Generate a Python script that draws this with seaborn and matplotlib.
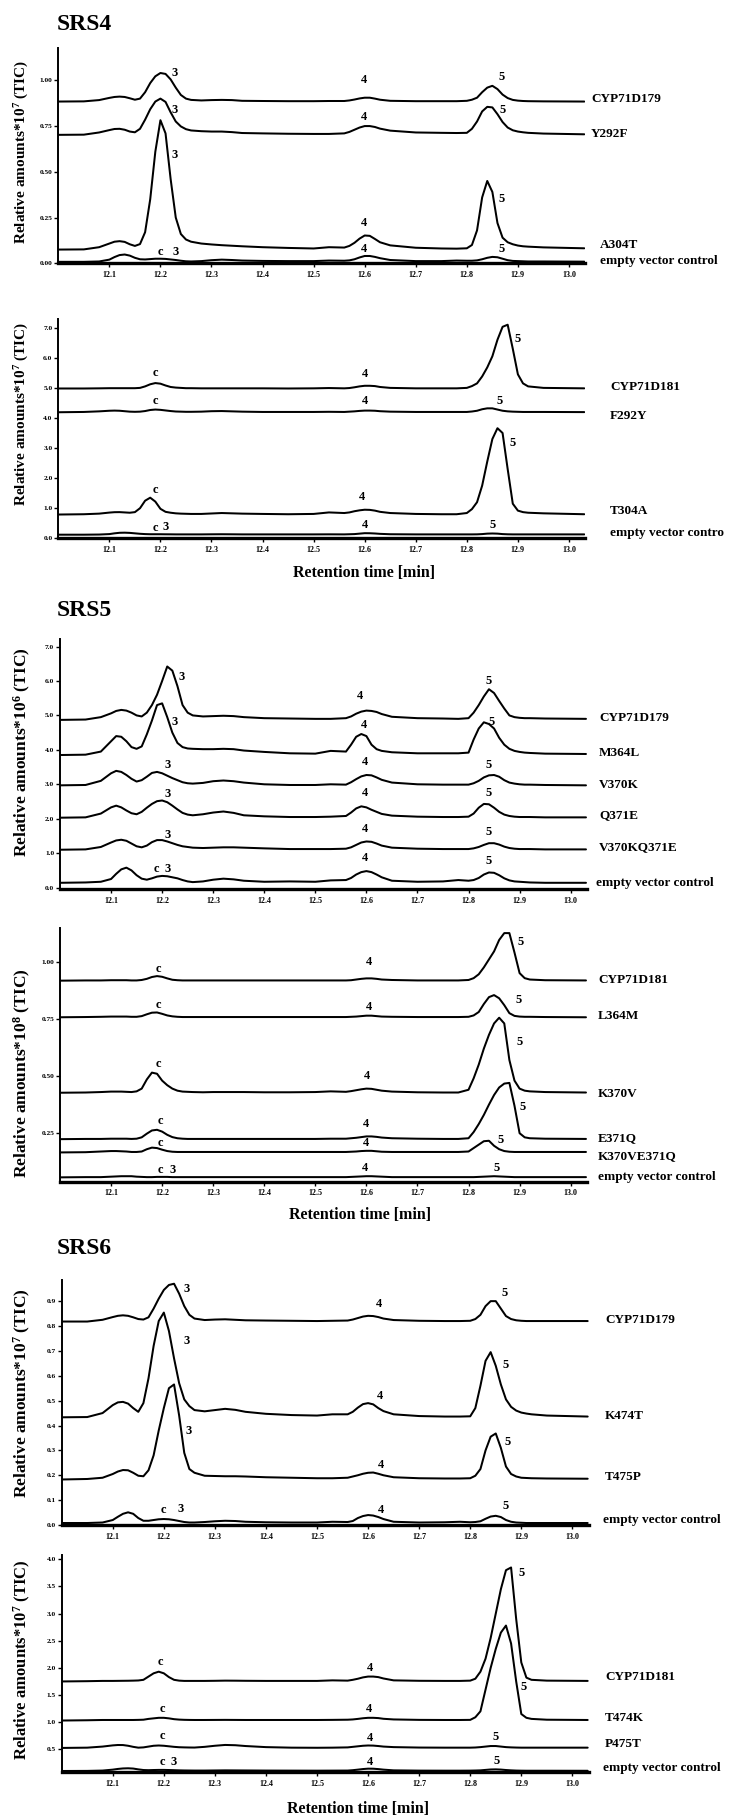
import matplotlib
matplotlib.use("Agg")
import matplotlib.pyplot as plt
import matplotlib.transforms as mtransforms
import pandas as pd
import seaborn as sns

# ---------------------------------------------------------------------------
# Retention-time grid shared by every trace (min), ten values per row
# ---------------------------------------------------------------------------
RT = [12.00, 12.05, 12.08, 12.10, 12.11, 12.12, 12.13, 12.14, 12.15, 12.16,
      12.17, 12.18, 12.19, 12.20, 12.21, 12.22, 12.23, 12.24, 12.25, 12.26,
      12.28, 12.30, 12.32, 12.34, 12.36, 12.40, 12.45, 12.50, 12.53, 12.56,
      12.57, 12.58, 12.59, 12.60, 12.61, 12.62, 12.63, 12.65, 12.70, 12.75,
      12.78, 12.80, 12.81, 12.82, 12.83, 12.84, 12.85, 12.86, 12.87, 12.88,
      12.89, 12.90, 12.91, 12.92, 12.95, 13.03]

# ---------------------------------------------------------------------------
# SRS4, CYP71D179 series (x10^7 TIC)
# ---------------------------------------------------------------------------
srs4a_cyp71d179 = [0.884, 0.885, 0.892, 0.904, 0.909, 0.911, 0.909, 0.902, 0.894, 0.900,
                   0.935, 0.985, 1.022, 1.040, 1.035, 1.005, 0.960, 0.920, 0.900, 0.893,
                   0.890, 0.892, 0.893, 0.892, 0.888, 0.887, 0.886, 0.886, 0.887, 0.887,
                   0.890, 0.895, 0.901, 0.905, 0.905, 0.900, 0.894, 0.888, 0.886, 0.886,
                   0.886, 0.888, 0.894, 0.905, 0.935, 0.960, 0.970, 0.952, 0.922, 0.903,
                   0.893, 0.889, 0.887, 0.886, 0.885, 0.884]
srs4a_y292f = [0.702, 0.703, 0.715, 0.728, 0.734, 0.735, 0.730, 0.720, 0.716, 0.735,
               0.785, 0.842, 0.884, 0.900, 0.882, 0.825, 0.775, 0.748, 0.733, 0.726,
               0.722, 0.720, 0.720, 0.717, 0.712, 0.710, 0.708, 0.707, 0.707, 0.710,
               0.718, 0.730, 0.742, 0.750, 0.750, 0.745, 0.736, 0.725, 0.715, 0.713,
               0.712, 0.713, 0.735, 0.775, 0.830, 0.855, 0.852, 0.815, 0.772, 0.742,
               0.727, 0.720, 0.716, 0.713, 0.709, 0.705]
srs4a_a304t = [0.075, 0.076, 0.088, 0.108, 0.118, 0.121, 0.117, 0.104, 0.095, 0.105,
               0.170, 0.350, 0.610, 0.782, 0.710, 0.460, 0.250, 0.160, 0.130, 0.118,
               0.108, 0.103, 0.099, 0.096, 0.093, 0.088, 0.084, 0.081, 0.088, 0.086,
               0.095, 0.112, 0.135, 0.152, 0.150, 0.133, 0.115, 0.098, 0.085, 0.081,
               0.080, 0.082, 0.100, 0.180, 0.360, 0.450, 0.390, 0.220, 0.140, 0.115,
               0.104, 0.097, 0.093, 0.091, 0.087, 0.082]
srs4a_empty = [0.008, 0.008, 0.010, 0.020, 0.034, 0.045, 0.048, 0.042, 0.030, 0.022,
               0.021, 0.023, 0.025, 0.025, 0.024, 0.021, 0.018, 0.014, 0.011, 0.010,
               0.012, 0.017, 0.020, 0.018, 0.015, 0.013, 0.012, 0.012, 0.015, 0.014,
               0.016, 0.022, 0.032, 0.040, 0.040, 0.035, 0.028, 0.018, 0.012, 0.012,
               0.015, 0.014, 0.014, 0.016, 0.022, 0.030, 0.035, 0.033, 0.025, 0.017,
               0.013, 0.012, 0.011, 0.010, 0.010, 0.009]

# SRS4, CYP71D181 series (x10^7 TIC)
srs4b_cyp71d181 = [4.98, 4.98, 4.985, 4.99, 4.99, 4.99, 4.99, 4.99, 4.99, 5.00,
                   5.05, 5.12, 5.16, 5.14, 5.08, 5.03, 5.01, 5.00, 4.99, 4.99,
                   4.985, 4.985, 4.985, 4.985, 4.985, 4.985, 4.98, 4.985, 4.995, 4.985,
                   4.995, 5.02, 5.05, 5.07, 5.07, 5.06, 5.03, 5.00, 4.985, 4.985,
                   4.985, 5.00, 5.06, 5.15, 5.38, 5.68, 6.05, 6.60, 7.03, 7.10,
                   6.30, 5.45, 5.15, 5.05, 5.00, 4.985]
srs4b_f292y = [4.19, 4.20, 4.22, 4.24, 4.245, 4.24, 4.225, 4.21, 4.205, 4.21,
               4.23, 4.265, 4.28, 4.27, 4.25, 4.23, 4.215, 4.21, 4.205, 4.205,
               4.21, 4.225, 4.23, 4.22, 4.21, 4.20, 4.20, 4.20, 4.205, 4.20,
               4.21, 4.22, 4.235, 4.245, 4.245, 4.24, 4.225, 4.21, 4.20, 4.20,
               4.20, 4.20, 4.215, 4.24, 4.29, 4.32, 4.32, 4.28, 4.24, 4.22,
               4.21, 4.205, 4.20, 4.20, 4.20, 4.195]
srs4b_t304a = [0.79, 0.80, 0.82, 0.855, 0.868, 0.87, 0.86, 0.85, 0.87, 1.00,
               1.25, 1.35, 1.22, 0.98, 0.88, 0.85, 0.83, 0.82, 0.815, 0.81,
               0.81, 0.825, 0.84, 0.83, 0.82, 0.81, 0.80, 0.81, 0.86, 0.84,
               0.86, 0.90, 0.93, 0.95, 0.945, 0.92, 0.88, 0.84, 0.81, 0.80,
               0.80, 0.84, 0.97, 1.20, 1.75, 2.55, 3.30, 3.66, 3.50, 2.30,
               1.15, 0.92, 0.87, 0.85, 0.83, 0.80]
srs4b_empty = [0.12, 0.12, 0.125, 0.14, 0.165, 0.183, 0.187, 0.18, 0.165, 0.15,
               0.14, 0.135, 0.135, 0.135, 0.133, 0.132, 0.13, 0.13, 0.13, 0.13,
               0.13, 0.133, 0.135, 0.133, 0.13, 0.13, 0.13, 0.13, 0.132, 0.13,
               0.135, 0.14, 0.155, 0.17, 0.168, 0.16, 0.148, 0.135, 0.13, 0.13,
               0.13, 0.13, 0.13, 0.132, 0.14, 0.155, 0.16, 0.155, 0.14, 0.133,
               0.13, 0.13, 0.13, 0.13, 0.13, 0.13]

# ---------------------------------------------------------------------------
# SRS5, CYP71D179 series (x10^6 TIC)
# ---------------------------------------------------------------------------
srs5a_cyp71d179 = [4.87, 4.88, 4.95, 5.06, 5.13, 5.16, 5.14, 5.08, 5.00, 4.97,
                   5.08, 5.30, 5.60, 6.00, 6.42, 6.30, 5.85, 5.30, 5.08, 5.00,
                   4.97, 4.98, 4.99, 4.98, 4.95, 4.92, 4.91, 4.90, 4.90, 4.92,
                   4.97, 5.05, 5.11, 5.14, 5.13, 5.10, 5.04, 4.96, 4.92, 4.91,
                   4.90, 4.92, 5.08, 5.30, 5.55, 5.76, 5.65, 5.42, 5.20, 5.00,
                   4.95, 4.93, 4.92, 4.92, 4.91, 4.90]
srs5a_m364l = [3.85, 3.86, 3.95, 4.25, 4.40, 4.38, 4.25, 4.08, 4.03, 4.10,
               4.45, 4.85, 5.30, 5.35, 4.95, 4.50, 4.20, 4.08, 4.04, 4.03,
               4.02, 4.02, 4.03, 4.02, 3.98, 3.94, 3.90, 3.89, 3.97, 3.95,
               4.15, 4.38, 4.46, 4.40, 4.15, 4.02, 3.97, 3.93, 3.90, 3.90,
               3.90, 3.92, 4.30, 4.62, 4.80, 4.75, 4.62, 4.35, 4.15, 4.03,
               3.97, 3.94, 3.92, 3.91, 3.89, 3.88]
srs5a_v370k = [2.97, 2.98, 3.10, 3.32, 3.39, 3.36, 3.27, 3.16, 3.08, 3.12,
               3.22, 3.33, 3.36, 3.32, 3.25, 3.18, 3.12, 3.06, 3.03, 3.02,
               3.04, 3.09, 3.11, 3.09, 3.05, 3.00, 2.98, 2.98, 3.00, 2.99,
               3.06, 3.15, 3.23, 3.27, 3.26, 3.20, 3.13, 3.05, 3.00, 2.99,
               2.99, 2.99, 3.03, 3.10, 3.20, 3.26, 3.27, 3.22, 3.12, 3.05,
               3.02, 3.00, 2.99, 2.99, 2.98, 2.97]
srs5a_q371e = [2.03, 2.04, 2.15, 2.33, 2.38, 2.33, 2.24, 2.16, 2.13, 2.20,
               2.32, 2.43, 2.51, 2.53, 2.48, 2.38, 2.27, 2.17, 2.12, 2.10,
               2.13, 2.18, 2.21, 2.17, 2.10, 2.07, 2.05, 2.05, 2.06, 2.08,
               2.18, 2.30, 2.36, 2.33, 2.26, 2.20, 2.14, 2.09, 2.06, 2.05,
               2.05, 2.06, 2.15, 2.32, 2.43, 2.42, 2.32, 2.20, 2.12, 2.08,
               2.06, 2.05, 2.05, 2.05, 2.04, 2.04]
srs5a_v370kq371e = [1.10, 1.11, 1.18, 1.31, 1.37, 1.39, 1.36, 1.28, 1.20, 1.17,
                    1.22, 1.32, 1.38, 1.38, 1.34, 1.29, 1.24, 1.20, 1.18, 1.16,
                    1.15, 1.16, 1.17, 1.17, 1.16, 1.14, 1.12, 1.12, 1.12, 1.13,
                    1.17, 1.24, 1.31, 1.34, 1.33, 1.28, 1.22, 1.16, 1.13, 1.12,
                    1.12, 1.12, 1.14, 1.18, 1.24, 1.29, 1.29, 1.25, 1.19, 1.15,
                    1.13, 1.12, 1.12, 1.12, 1.11, 1.11]
srs5a_empty = [0.14, 0.15, 0.17, 0.25, 0.40, 0.53, 0.58, 0.50, 0.36, 0.26,
               0.23, 0.27, 0.32, 0.34, 0.33, 0.30, 0.27, 0.22, 0.18, 0.16,
               0.18, 0.23, 0.26, 0.24, 0.20, 0.17, 0.18, 0.17, 0.21, 0.22,
               0.28, 0.38, 0.45, 0.48, 0.45, 0.38, 0.30, 0.20, 0.17, 0.18,
               0.22, 0.20, 0.22, 0.28, 0.38, 0.44, 0.43, 0.36, 0.27, 0.21,
               0.18, 0.17, 0.16, 0.15, 0.14, 0.14]

# SRS5, CYP71D181 series (x10^8 TIC)
srs5b_cyp71d181 = [0.917, 0.918, 0.918, 0.919, 0.919, 0.919, 0.919, 0.918, 0.918, 0.920,
                   0.925, 0.933, 0.937, 0.934, 0.927, 0.921, 0.919, 0.918, 0.918, 0.918,
                   0.918, 0.918, 0.918, 0.918, 0.918, 0.918, 0.918, 0.918, 0.918, 0.918,
                   0.919, 0.922, 0.925, 0.927, 0.927, 0.925, 0.922, 0.920, 0.918, 0.918,
                   0.918, 0.920, 0.928, 0.945, 0.975, 1.010, 1.045, 1.095, 1.125, 1.125,
                   1.040, 0.950, 0.928, 0.922, 0.919, 0.918]
srs5b_l364m = [0.757, 0.758, 0.759, 0.760, 0.760, 0.760, 0.760, 0.759, 0.759, 0.762,
               0.770, 0.777, 0.778, 0.772, 0.765, 0.761, 0.759, 0.758, 0.758, 0.758,
               0.758, 0.758, 0.758, 0.758, 0.758, 0.758, 0.758, 0.758, 0.758, 0.758,
               0.759, 0.760, 0.762, 0.764, 0.764, 0.762, 0.760, 0.759, 0.758, 0.758,
               0.758, 0.759, 0.765, 0.780, 0.815, 0.845, 0.854, 0.840, 0.810, 0.775,
               0.763, 0.760, 0.759, 0.759, 0.758, 0.757]
srs5b_k370v = [0.427, 0.428, 0.430, 0.432, 0.432, 0.432, 0.431, 0.430, 0.433, 0.445,
               0.485, 0.515, 0.510, 0.480, 0.460, 0.445, 0.436, 0.432, 0.431, 0.430,
               0.429, 0.430, 0.430, 0.430, 0.430, 0.429, 0.429, 0.430, 0.433, 0.431,
               0.434, 0.438, 0.442, 0.445, 0.444, 0.440, 0.436, 0.432, 0.429, 0.428,
               0.428, 0.440, 0.490, 0.550, 0.620, 0.680, 0.730, 0.755, 0.730, 0.570,
               0.480, 0.445, 0.436, 0.433, 0.430, 0.428]
srs5b_e371q = [0.224, 0.225, 0.225, 0.226, 0.226, 0.226, 0.226, 0.225, 0.226, 0.232,
               0.248, 0.262, 0.265, 0.257, 0.243, 0.233, 0.228, 0.226, 0.225, 0.225,
               0.225, 0.225, 0.225, 0.225, 0.225, 0.225, 0.225, 0.225, 0.226, 0.226,
               0.228, 0.230, 0.233, 0.236, 0.236, 0.234, 0.231, 0.228, 0.226, 0.225,
               0.225, 0.228, 0.255, 0.290, 0.330, 0.375, 0.417, 0.450, 0.467, 0.470,
               0.370, 0.250, 0.232, 0.228, 0.226, 0.225]
srs5b_k370ve371q = [0.166, 0.167, 0.170, 0.172, 0.172, 0.171, 0.170, 0.168, 0.168, 0.170,
                    0.180, 0.187, 0.185, 0.178, 0.172, 0.169, 0.168, 0.168, 0.168, 0.168,
                    0.168, 0.168, 0.168, 0.168, 0.168, 0.168, 0.168, 0.168, 0.168, 0.168,
                    0.169, 0.170, 0.172, 0.173, 0.173, 0.171, 0.169, 0.168, 0.168, 0.168,
                    0.168, 0.170, 0.185, 0.200, 0.215, 0.217, 0.195, 0.180, 0.172, 0.169,
                    0.168, 0.168, 0.168, 0.168, 0.168, 0.168]
srs5b_empty = [0.057, 0.058, 0.058, 0.060, 0.061, 0.062, 0.062, 0.062, 0.060, 0.059,
               0.058, 0.058, 0.059, 0.059, 0.059, 0.058, 0.058, 0.058, 0.058, 0.058,
               0.058, 0.058, 0.058, 0.058, 0.058, 0.058, 0.058, 0.058, 0.058, 0.058,
               0.059, 0.060, 0.061, 0.062, 0.062, 0.061, 0.060, 0.058, 0.058, 0.058,
               0.058, 0.058, 0.058, 0.059, 0.060, 0.061, 0.062, 0.061, 0.060, 0.059,
               0.058, 0.058, 0.058, 0.058, 0.058, 0.058]

# ---------------------------------------------------------------------------
# SRS6, CYP71D179 series (x10^7 TIC)
# ---------------------------------------------------------------------------
srs6a_cyp71d179 = [0.818, 0.818, 0.825, 0.836, 0.841, 0.843, 0.841, 0.835, 0.828, 0.826,
                   0.835, 0.870, 0.910, 0.945, 0.965, 0.970, 0.930, 0.880, 0.845, 0.830,
                   0.824, 0.826, 0.827, 0.825, 0.823, 0.822, 0.821, 0.820, 0.821, 0.822,
                   0.826, 0.832, 0.838, 0.841, 0.840, 0.836, 0.830, 0.824, 0.821, 0.820,
                   0.820, 0.821, 0.828, 0.845, 0.880, 0.900, 0.900, 0.870, 0.840, 0.828,
                   0.823, 0.821, 0.820, 0.820, 0.820, 0.820]
srs6a_k474t = [0.433, 0.434, 0.450, 0.482, 0.493, 0.495, 0.488, 0.470, 0.455, 0.490,
               0.590, 0.720, 0.820, 0.854, 0.780, 0.670, 0.570, 0.505, 0.478, 0.462,
               0.457, 0.462, 0.467, 0.463, 0.455, 0.447, 0.442, 0.440, 0.445, 0.445,
               0.455, 0.472, 0.486, 0.490, 0.485, 0.470, 0.458, 0.445, 0.438, 0.436,
               0.436, 0.437, 0.470, 0.560, 0.660, 0.695, 0.640, 0.565, 0.505, 0.475,
               0.460, 0.452, 0.448, 0.445, 0.440, 0.436]
srs6a_t475p = [0.183, 0.185, 0.190, 0.205, 0.215, 0.221, 0.220, 0.210, 0.198, 0.196,
               0.220, 0.280, 0.380, 0.470, 0.550, 0.565, 0.440, 0.290, 0.225, 0.210,
               0.198, 0.197, 0.196, 0.196, 0.195, 0.192, 0.190, 0.188, 0.188, 0.190,
               0.195, 0.200, 0.206, 0.210, 0.211, 0.206, 0.200, 0.192, 0.188, 0.187,
               0.187, 0.188, 0.198, 0.225, 0.300, 0.355, 0.368, 0.310, 0.235, 0.205,
               0.195, 0.190, 0.189, 0.188, 0.187, 0.186]
srs6a_empty = [0.008, 0.008, 0.010, 0.020, 0.033, 0.045, 0.051, 0.045, 0.028, 0.017,
               0.017, 0.020, 0.023, 0.024, 0.023, 0.020, 0.016, 0.012, 0.010, 0.010,
               0.012, 0.015, 0.017, 0.016, 0.013, 0.011, 0.010, 0.010, 0.013, 0.012,
               0.016, 0.028, 0.036, 0.040, 0.038, 0.032, 0.024, 0.013, 0.010, 0.011,
               0.013, 0.011, 0.012, 0.015, 0.025, 0.034, 0.037, 0.032, 0.020, 0.013,
               0.010, 0.009, 0.008, 0.008, 0.008, 0.008]

# SRS6, CYP71D181 series (x10^7 TIC)
srs6b_cyp71d181 = [1.750, 1.755, 1.760, 1.760, 1.761, 1.762, 1.763, 1.765, 1.768, 1.780,
                   1.840, 1.900, 1.930, 1.900, 1.830, 1.780, 1.765, 1.760, 1.760, 1.760,
                   1.760, 1.762, 1.765, 1.764, 1.762, 1.760, 1.760, 1.760, 1.770, 1.765,
                   1.780, 1.800, 1.825, 1.840, 1.840, 1.830, 1.805, 1.770, 1.762, 1.760,
                   1.760, 1.765, 1.800, 1.930, 2.170, 2.550, 3.000, 3.450, 3.800, 3.850,
                   2.900, 2.100, 1.820, 1.780, 1.765, 1.760]
srs6b_t474k = [1.030, 1.035, 1.040, 1.040, 1.040, 1.040, 1.040, 1.040, 1.042, 1.045,
               1.060, 1.070, 1.080, 1.080, 1.070, 1.055, 1.047, 1.043, 1.041, 1.040,
               1.040, 1.041, 1.042, 1.041, 1.040, 1.040, 1.040, 1.040, 1.042, 1.045,
               1.050, 1.060, 1.072, 1.080, 1.080, 1.075, 1.062, 1.050, 1.042, 1.040,
               1.040, 1.042, 1.090, 1.200, 1.600, 2.000, 2.350, 2.650, 2.780, 2.450,
               1.750, 1.150, 1.080, 1.060, 1.045, 1.040]
srs6b_p475t = [0.525, 0.530, 0.550, 0.572, 0.579, 0.578, 0.565, 0.545, 0.530, 0.535,
               0.550, 0.565, 0.570, 0.565, 0.555, 0.545, 0.538, 0.535, 0.533, 0.532,
               0.545, 0.565, 0.580, 0.575, 0.560, 0.540, 0.530, 0.528, 0.530, 0.535,
               0.545, 0.555, 0.565, 0.570, 0.568, 0.560, 0.550, 0.540, 0.532, 0.530,
               0.530, 0.530, 0.533, 0.540, 0.550, 0.560, 0.560, 0.550, 0.540, 0.535,
               0.532, 0.530, 0.530, 0.530, 0.530, 0.530]
srs6b_empty = [0.100, 0.102, 0.108, 0.125, 0.138, 0.147, 0.150, 0.145, 0.130, 0.118,
               0.115, 0.118, 0.120, 0.120, 0.118, 0.115, 0.112, 0.110, 0.109, 0.108,
               0.108, 0.110, 0.112, 0.111, 0.110, 0.108, 0.107, 0.106, 0.107, 0.108,
               0.115, 0.125, 0.136, 0.143, 0.142, 0.135, 0.125, 0.112, 0.107, 0.106,
               0.106, 0.107, 0.109, 0.112, 0.120, 0.128, 0.130, 0.126, 0.118, 0.112,
               0.108, 0.106, 0.105, 0.105, 0.105, 0.104]

# ---------------------------------------------------------------------------
# Sample names and where they sit on the y scale of each panel
# ---------------------------------------------------------------------------
srs4a_names = ["CYP71D179", "Y292F", "A304T", "empty vector control"]
srs4a_name_y = [0.898, 0.705, 0.100, 0.013]
srs4b_names = ["CYP71D181", "F292Y", "T304A", "empty vector contro"]
srs4b_name_y = [5.04, 4.06, 0.92, 0.17]
srs5a_names = ["CYP71D179", "M364L", "V370K", "Q371E", "V370KQ371E",
               "empty vector control"]
srs5a_name_y = [4.92, 3.92, 2.99, 2.11, 1.19, 0.13]
srs5b_names = ["CYP71D181", "L364M", "K370V", "E371Q", "K370VE371Q",
               "empty vector control"]
srs5b_name_y = [0.920, 0.763, 0.422, 0.228, 0.148, 0.058]
srs6a_names = ["CYP71D179", "K474T", "T475P", "empty vector control"]
srs6a_name_y = [0.825, 0.440, 0.193, 0.019]
srs6b_names = ["CYP71D181", "T474K", "P475T", "empty vector control"]
srs6b_name_y = [1.84, 1.08, 0.59, 0.16]

# Peak annotations: compound label, retention time, height
srs4a_peak_txt = ["3", "4", "5", "3", "4", "5", "3", "4", "5", "c", "3", "4", "5"]
srs4a_peak_rt = [12.228, 12.598, 12.868, 12.228, 12.598, 12.870, 12.228,
                 12.598, 12.868, 12.199, 12.230, 12.598, 12.868]
srs4a_peak_h = [1.040, 1.004, 1.018, 0.840, 0.797, 0.840, 0.593,
                0.219, 0.350, 0.063, 0.060, 0.077, 0.077]

srs4b_peak_txt = ["c", "4", "5", "c", "4", "5", "c", "4", "5", "c", "3", "4", "5"]
srs4b_peak_rt = [12.190, 12.600, 12.900, 12.190, 12.600, 12.865, 12.190,
                 12.595, 12.890, 12.190, 12.210, 12.600, 12.850]
srs4b_peak_h = [5.50, 5.46, 6.62, 4.56, 4.56, 4.56, 1.61,
                1.36, 3.16, 0.35, 0.39, 0.44, 0.44]

srs5a_peak_txt = ["3", "4", "5", "3", "4", "5", "3", "4", "5",
                  "3", "4", "5", "3", "4", "5", "c", "3", "4", "5"]
srs5a_peak_rt = [12.239, 12.588, 12.840, 12.225, 12.595, 12.845,
                 12.210, 12.597, 12.840, 12.210, 12.597, 12.840,
                 12.210, 12.597, 12.840, 12.189, 12.210, 12.597, 12.840]
srs5a_peak_h = [6.11, 5.55, 5.99, 4.81, 4.73, 4.81, 3.57, 3.64, 3.57,
                2.72, 2.74, 2.76, 1.53, 1.71, 1.61, 0.54, 0.54, 0.85, 0.76]

srs5b_peak_txt = ["c", "4", "5", "c", "4", "5", "c", "4", "5",
                  "c", "4", "5", "c", "4", "5", "c", "3", "4", "5"]
srs5b_peak_rt = [12.193, 12.606, 12.903, 12.193, 12.606, 12.899,
                 12.193, 12.602, 12.900, 12.196, 12.600, 12.906,
                 12.197, 12.600, 12.862, 12.197, 12.220, 12.598, 12.855]
srs5b_peak_h = [0.968, 0.997, 1.084, 0.810, 0.800, 0.833, 0.551, 0.498,
                0.648, 0.304, 0.289, 0.364, 0.206, 0.206, 0.221, 0.090,
                0.090, 0.100, 0.100]

srs6a_peak_txt = ["3", "4", "5", "3", "4", "5", "3", "4", "5", "c", "3", "4", "5"]
srs6a_peak_rt = [12.244, 12.621, 12.868, 12.244, 12.624, 12.870, 12.248,
                 12.626, 12.874, 12.200, 12.232, 12.626, 12.870]
srs6a_peak_h = [0.948, 0.889, 0.934, 0.738, 0.519, 0.644, 0.376,
                0.240, 0.333, 0.062, 0.064, 0.062, 0.078]

srs6b_peak_txt = ["c", "4", "5", "c", "4", "5", "c", "4", "5", "c", "3", "4", "5"]
srs6b_peak_rt = [12.194, 12.604, 12.900, 12.198, 12.601, 12.904, 12.198,
                 12.604, 12.850, 12.198, 12.220, 12.604, 12.852]
srs6b_peak_h = [2.11, 2.00, 3.74, 1.24, 1.24, 1.65, 0.745,
                0.70, 0.73, 0.26, 0.26, 0.26, 0.29]

# Axis ticks
x_ticks = [12.1, 12.2, 12.3, 12.4, 12.5, 12.6, 12.7, 12.8, 12.9, 13.0]
srs4a_yticks = [0.00, 0.25, 0.50, 0.75, 1.00]
srs4b_yticks = [0.0, 1.0, 2.0, 3.0, 4.0, 5.0, 6.0, 7.0]
srs5a_yticks = [0.0, 1.0, 2.0, 3.0, 4.0, 5.0, 6.0, 7.0]
srs5b_yticks = [0.25, 0.50, 0.75, 1.00]
srs6a_yticks = [0.0, 0.1, 0.2, 0.3, 0.4, 0.5, 0.6, 0.7, 0.8, 0.9]
srs6b_yticks = [0.5, 1.0, 1.5, 2.0, 2.5, 3.0, 3.5, 4.0]

# ---------------------------------------------------------------------------
# Styling
# ---------------------------------------------------------------------------
sns.set_theme(style="ticks")
plt.rcParams["font.family"] = ["Liberation Serif", "DejaVu Serif"]
plt.rcParams["font.weight"] = "bold"
plt.rcParams["axes.labelweight"] = "bold"
plt.rcParams["mathtext.fontset"] = "custom"
plt.rcParams["mathtext.rm"] = "Liberation Serif:bold"
plt.rcParams["mathtext.it"] = "Liberation Serif:bold"
plt.rcParams["mathtext.bf"] = "Liberation Serif:bold"

W, H = 734, 1818
fig = plt.figure(figsize=(W / 100, H / 100), dpi=100)
fig.patch.set_facecolor("white")

AX_W = 527
XLIM = (12.0, 13.032)

panels = [
    dict(traces=[srs4a_cyp71d179, srs4a_y292f, srs4a_a304t, srs4a_empty],
         names=srs4a_names, name_y=srs4a_name_y, name_x=[591, 591, 600, 600],
         peaks=(srs4a_peak_txt, srs4a_peak_rt, srs4a_peak_h),
         yticks=srs4a_yticks, yfmt="%.2f", ylim=(0.0, 1.175),
         box=(58.3, 48.3, 263.3), exp="7", ylab_c=151.5, ylab_fs=11,
         xlabel=None, title=("SRS4", 24)),
    dict(traces=[srs4b_cyp71d181, srs4b_f292y, srs4b_t304a, srs4b_empty],
         names=srs4b_names, name_y=srs4b_name_y, name_x=[610] * 4,
         peaks=(srs4b_peak_txt, srs4b_peak_rt, srs4b_peak_h),
         yticks=srs4b_yticks, yfmt="%.1f", ylim=(0.0, 7.28),
         box=(58.3, 319.3, 538.3), exp="7", ylab_c=414, ylab_fs=11,
         xlabel=(364, 573.3), title=None),
    dict(traces=[srs5a_cyp71d179, srs5a_m364l, srs5a_v370k, srs5a_q371e,
                 srs5a_v370kq371e, srs5a_empty],
         names=srs5a_names, name_y=srs5a_name_y,
         name_x=[599, 599, 599, 599, 599, 596],
         peaks=(srs5a_peak_txt, srs5a_peak_rt, srs5a_peak_h),
         yticks=srs5a_yticks, yfmt="%.1f", ylim=(-0.04, 7.21),
         box=(60.0, 639.3, 889.0), exp="6", ylab_c=752, ylab_fs=12.5,
         xlabel=None, title=("SRS5", 610.7)),
    dict(traces=[srs5b_cyp71d181, srs5b_l364m, srs5b_k370v, srs5b_e371q,
                 srs5b_k370ve371q, srs5b_empty],
         names=srs5b_names, name_y=srs5b_name_y, name_x=[598] * 6,
         peaks=(srs5b_peak_txt, srs5b_peak_rt, srs5b_peak_h),
         yticks=srs5b_yticks, yfmt="%.2f", ylim=(0.038, 1.146),
         box=(60.0, 928.3, 1181.7), exp="8", ylab_c=1073, ylab_fs=12.5,
         xlabel=(360, 1215), title=None),
    dict(traces=[srs6a_cyp71d179, srs6a_k474t, srs6a_t475p, srs6a_empty],
         names=srs6a_names, name_y=srs6a_name_y, name_x=[605, 605, 605, 603],
         peaks=(srs6a_peak_txt, srs6a_peak_rt, srs6a_peak_h),
         yticks=srs6a_yticks, yfmt="%.1f", ylim=(0.0, 0.985),
         box=(61.7, 1280.0, 1525.0), exp="7", ylab_c=1393, ylab_fs=12.5,
         xlabel=None, title=("SRS6", 1248.3)),
    dict(traces=[srs6b_cyp71d181, srs6b_t474k, srs6b_p475t, srs6b_empty],
         names=srs6b_names, name_y=srs6b_name_y, name_x=[605, 605, 605, 603],
         peaks=(srs6b_peak_txt, srs6b_peak_rt, srs6b_peak_h),
         yticks=srs6b_yticks, yfmt="%.1f", ylim=(0.076, 4.08),
         box=(61.7, 1555.0, 1772.3), exp="7", ylab_c=1660, ylab_fs=12,
         xlabel=(358, 1809), title=None),
]

for p in panels:
    left, top, bottom = p["box"]
    ax = fig.add_axes([left / W, 1 - bottom / H, AX_W / W, (bottom - top) / H])
    ax.set_facecolor("white")

    for vals in p["traces"]:
        df = pd.DataFrame({"rt": RT, "tic": vals})
        sns.lineplot(data=df, x="rt", y="tic", ax=ax, color="black",
                     linewidth=1.45, estimator=None,
                     solid_joinstyle="round", solid_capstyle="round")

    ax.set_xlim(*XLIM)
    ax.set_ylim(*p["ylim"])
    ax.set_xticks(x_ticks)
    ax.set_xticklabels(["%.1f" % t for t in x_ticks])
    ax.set_yticks(p["yticks"])
    ax.set_yticklabels([p["yfmt"] % t for t in p["yticks"]])
    ax.tick_params(axis="x", length=3, width=1.0, labelsize=5.8, pad=2.5,
                   color="black", labelcolor="black")
    ax.tick_params(axis="y", length=3, width=1.0, labelsize=5.3, pad=1.2,
                   color="black", labelcolor="black")
    for lab in ax.get_xticklabels() + ax.get_yticklabels():
        lab.set_fontweight("bold")

    for side in ("top", "right"):
        ax.spines[side].set_visible(False)
    ax.spines["left"].set_linewidth(1.4)
    ax.spines["bottom"].set_linewidth(2.4)
    ax.spines["left"].set_color("black")
    ax.spines["bottom"].set_color("black")

    # y label
    ax.set_ylabel(r"Relative amounts*10$^{%s}$ (TIC)" % p["exp"],
                  fontsize=p["ylab_fs"], fontweight="bold", color="black",
                  va="center")
    ax.yaxis.set_label_coords((22 - left) / AX_W,
                              (bottom - p["ylab_c"]) / (bottom - top))

    # x label
    if p["xlabel"] is not None:
        cx, cy = p["xlabel"]
        ax.set_xlabel("Retention time [min]", fontsize=11.5,
                      fontweight="bold", color="black", va="center")
        ax.xaxis.set_label_coords((cx - left) / AX_W,
                                  -(cy - bottom) / (bottom - top))
    else:
        ax.set_xlabel("")

    # sample names to the right of the traces
    blend = mtransforms.blended_transform_factory(fig.transFigure, ax.transData)
    for name, yv, xpx in zip(p["names"], p["name_y"], p["name_x"]):
        ax.text(xpx / W, yv, name, transform=blend, ha="left",
                va="center", fontsize=9.5, fontweight="bold", color="black",
                clip_on=False)

    # peak labels
    for txt, rt, h in zip(*p["peaks"]):
        ax.text(rt, h, txt, ha="center", va="center", fontsize=9,
                fontweight="bold", color="black", clip_on=False)

    if p["title"] is not None:
        t, ty = p["title"]
        fig.text(57 / W, 1 - ty / H, t, ha="left", va="center",
                 fontsize=17, fontweight="bold", color="black")

fig.savefig("out.png", dpi=100, facecolor="white")
